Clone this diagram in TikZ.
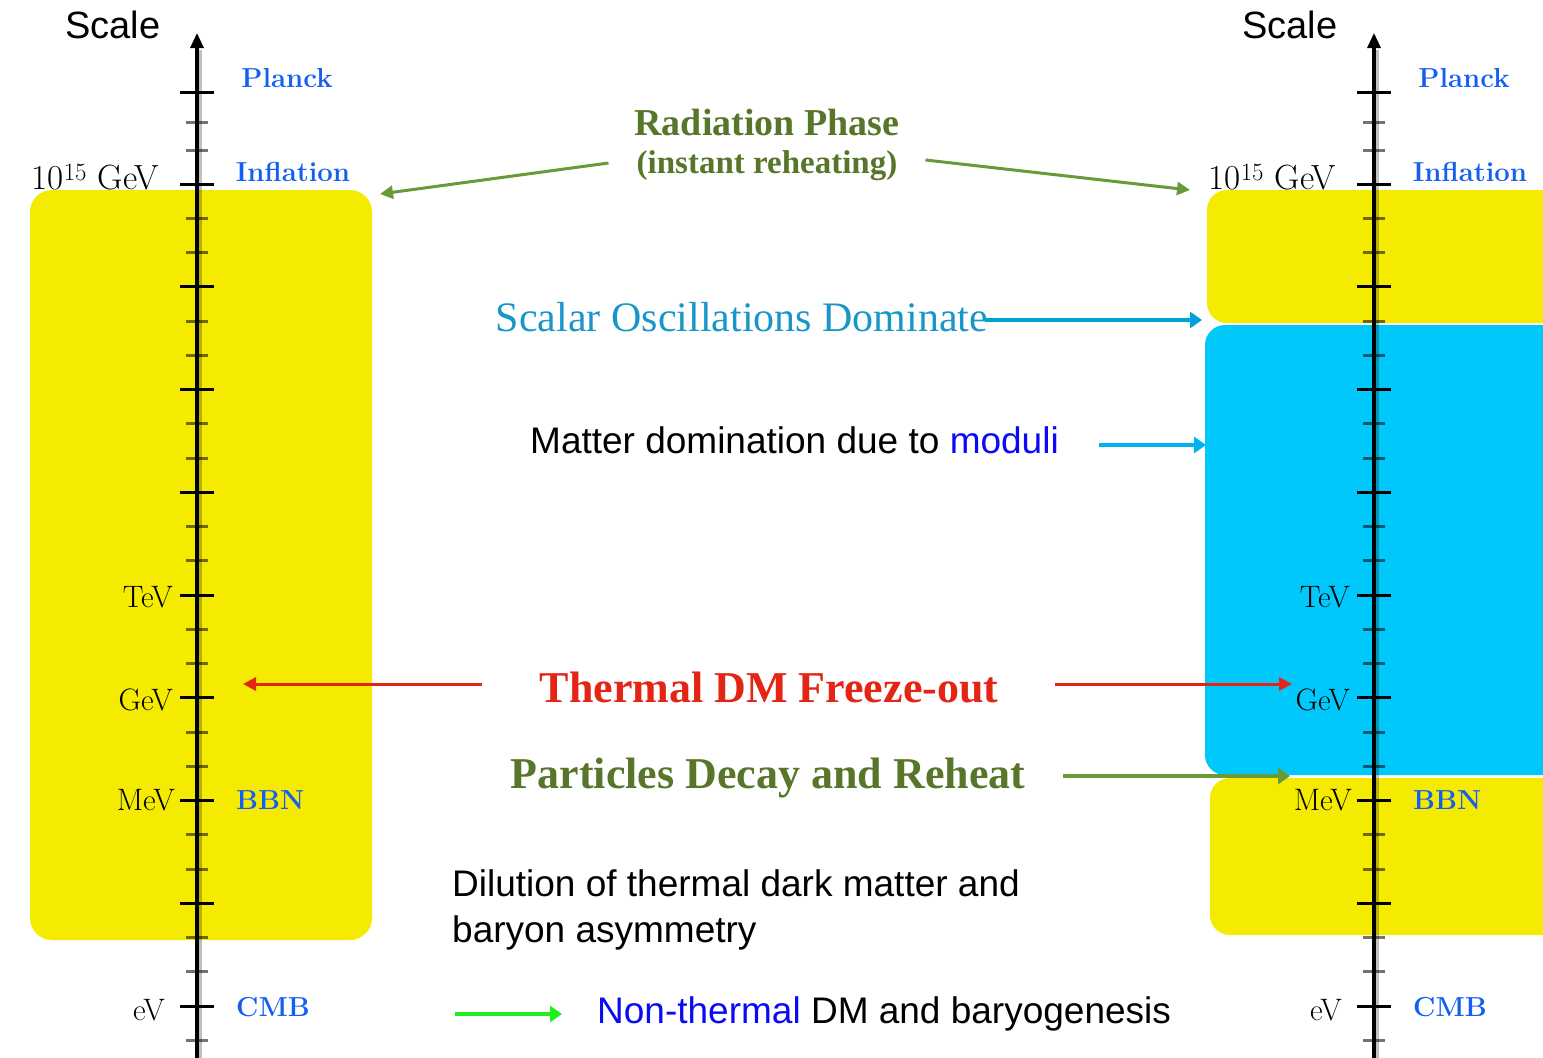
\documentclass[tikz,border=0pt]{standalone}
\usepackage{fontspec}
\usetikzlibrary{arrows.meta}
\newfontfamily\sansA{Liberation Sans}
\newfontfamily\serifT{Liberation Serif}
\definecolor{boxyellow}{RGB}{245,235,0}
\definecolor{boxcyan}{RGB}{0,200,250}
\definecolor{labelblue}{RGB}{20,95,240}
\definecolor{olivetext}{RGB}{88,118,42}
\definecolor{olivearrow}{RGB}{104,154,56}
\definecolor{tealtext}{RGB}{25,150,200}
\definecolor{tealarrow}{RGB}{0,162,218}
\definecolor{skyarrow}{RGB}{0,178,240}
\definecolor{freezered}{RGB}{228,36,20}
\definecolor{purblue}{RGB}{10,10,245}
\definecolor{brightgreen}{RGB}{30,240,30}

\begin{document}
\begin{tikzpicture}[x=1pt,y=-1pt,
  majortick/.style={line width=3pt},
  minortick/.style={line width=3pt, opacity=0.55},
  axisline/.style={line width=3.2pt},
  axisshade/.style={line width=4pt, black, opacity=0.25},
  scalelab/.style={font=\sansA\fontsize{38}{38}\selectfont, inner sep=0pt},
  energylab/.style={font=\fontsize{31}{31}\selectfont, inner sep=0pt},
  eventlab/.style={font=\fontsize{27.5}{27.5}\selectfont\bfseries, text=labelblue, inner sep=0pt},
  serifbig/.style={font=\serifT\bfseries\fontsize{44}{44}\selectfont, inner sep=0pt},
  plaintext/.style={font=\sansA\fontsize{37}{37}\selectfont, inner sep=0pt},
  pointer/.style={line width=3pt, -{Triangle[length=13pt,width=13pt]}},
  fatpointer/.style={line width=4pt, -{Triangle[length=12pt,width=16pt]}}
]
\useasboundingbox (0,0) rectangle (1543,1058);
\clip (0,0) rectangle (1543,1058);

% epoch bands
\fill[boxyellow, rounded corners=22pt] (30,190) rectangle (372,940);
\fill[boxyellow, rounded corners=20pt] (1207,190) rectangle (1590,323);
\fill[boxcyan, rounded corners=20pt] (1205,325) rectangle (1590,775);
\fill[boxyellow, rounded corners=20pt] (1210,778) rectangle (1590,935);

% two energy-scale axes
\foreach \ax/\s in {197/L,1374/R}{
  \draw[axisshade] (\ax+3,1058) -- (\ax+3,50);
  \foreach \yy in {122,150} \draw[minortick] (\ax-11,\yy) -- (\ax+11,\yy);
  \foreach \yy in {92,184} \draw[majortick] (\ax-17,\yy) -- (\ax+17,\yy);
  \foreach \k in {1,...,25}{
    \pgfmathsetmacro\yy{184+34.25*\k}
    \pgfmathtruncatemacro\m{mod(\k,3)}
    \ifnum\m=0
      \draw[majortick] (\ax-17,\yy) -- (\ax+17,\yy);
    \else
      \draw[minortick] (\ax-11,\yy) -- (\ax+11,\yy);
    \fi
  }
  \coordinate (base-\s) at (\ax,1058);
  \coordinate (tip-\s) at (\ax,33);
  \draw[axisline,-{Triangle[length=15pt,width=13pt]}] (base-\s) -- (tip-\s);

  \node[scalelab] (scale-\s) at (\ax-84,25) {Scale};
  \node[eventlab] (planck-\s) at (\ax+90,78) {Planck};
  \node[eventlab] (inflation-\s) at (\ax+96,172) {Inflation};
  \node[energylab, font=\fontsize{35}{35}\selectfont, anchor=east] (gut-\s) at (\ax-38,177) {10$^{15}$ GeV};
  \node[energylab, anchor=east] (tev-\s) at (\ax-24,597) {TeV};
  \node[energylab, anchor=east] (gev-\s) at (\ax-24,700) {GeV};
  \node[energylab, anchor=east] (mev-\s) at (\ax-22,800) {MeV};
  \node[energylab, anchor=east] (ev-\s) at (\ax-32,1010) {eV};
  \node[eventlab, anchor=west] (bbn-\s) at (\ax+39,800) {BBN};
  \node[eventlab, anchor=west] (cmb-\s) at (\ax+39,1007) {CMB};
}

% radiation phase
\node[font=\serifT\bfseries\fontsize{38}{38}\selectfont, text=olivetext, inner sep=0pt] (radphase) at (767,122) {Radiation Phase};
\node[font=\serifT\bfseries\fontsize{33}{33}\selectfont, text=olivetext, inner ysep=0pt, inner xsep=28pt] (instant) at (767,166) {(instant reheating)};
\coordinate (radleft) at (380,194);
\coordinate (radright) at (1190,190);
\draw[pointer, olivearrow] ([yshift=3pt]instant.west) -- (radleft);
\draw[pointer, olivearrow] ([yshift=6pt]instant.east) -- (radright);

% scalar oscillations
\node[font=\serifT\fontsize{42}{42}\selectfont, text=tealtext, inner sep=0pt] (scalar) at (742,317) {Scalar Oscillations Dominate};
\coordinate (scalarend) at (1202,320);
\path ([xshift=-3pt]scalar.east) coordinate (scalarstart);
\draw[fatpointer, tealarrow] (scalarstart |- scalarend) -- (scalarend);

% moduli domination
\node[plaintext, anchor=west] (matter) at (530,440) {Matter domination due to \textcolor{purblue}{moduli}};
\coordinate (matterend) at (1206,445);
\path ([xshift=40pt]matter.east) coordinate (matterstart);
\draw[fatpointer, skyarrow] (matterstart |- matterend) -- (matterend);

% thermal freeze-out
\node[serifbig, text=freezered] (freeze) at (769,687) {Thermal DM Freeze-out};
\coordinate (freezeleft) at (243,684);
\coordinate (freezeright) at (1292,684);
\path ([xshift=-58pt]freeze.west) coordinate (freezeLstart);
\path ([xshift=57pt]freeze.east) coordinate (freezeRstart);
\draw[pointer, freezered] (freezeLstart |- freezeleft) -- (freezeleft);
\draw[pointer, freezered] (freezeRstart |- freezeright) -- (freezeright);

% decay and reheat
\node[serifbig, text=olivetext] (decay) at (768,778) {Particles Decay and Reheat};
\coordinate (decayend) at (1290,776);
\path ([xshift=38pt]decay.east) coordinate (decaystart);
\draw[fatpointer, olivearrow] (decaystart |- decayend) -- (decayend);

% consequences
\node[plaintext, anchor=west, align=left] (dilution) at (452,910)
  {Dilution of thermal dark matter and\\[9pt]baryon asymmetry};
\node[plaintext, anchor=west] (nonthermal) at (597,1014)
  {\textcolor{purblue}{Non-thermal} DM and baryogenesis};
\coordinate (legendtail) at (455,1014);
\draw[fatpointer, brightgreen] (legendtail) -- ([xshift=-35pt]nonthermal.west);
\end{tikzpicture}
\end{document}
